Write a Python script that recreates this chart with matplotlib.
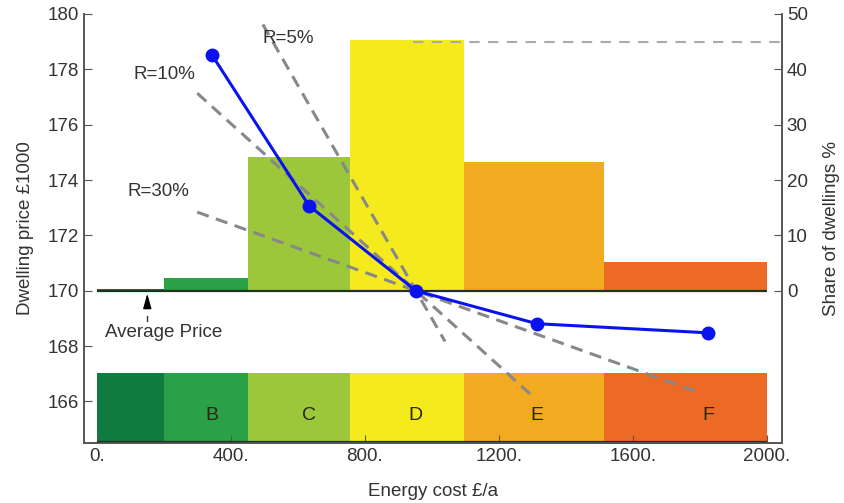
import matplotlib
matplotlib.use("Agg")
import matplotlib.pyplot as plt
import numpy as np

plt.rcParams['font.family'] = ['Liberation Sans', 'DejaVu Sans']

# ---- data ----
bin_edges = [0, 200, 450, 755, 1095, 1515, 2000]
bands = ['A', 'B', 'C', 'D', 'E', 'F']
band_colors = ['#0f7b3f', '#2aa146', '#9cc73b', '#f5ea1e', '#f2ab20', '#ec6a25']
share = [0.3, 2.3, 24.2, 45.3, 23.3, 5.2]          # % of dwellings
point_cost = [343, 633, 952, 1313, 1824]            # £/a
point_price = [178.52, 173.07, 170.0, 168.81, 168.48]  # £1000
letters = ['B', 'C', 'D', 'E', 'F']
avg_price = 170.0
avg_cost = 952
r_labels = ['R=5%', 'R=10%', 'R=30%']
r_slopes = [-0.02105, -0.01093, -0.00435]
r_range = [(495, 1039), (299, 1293), (299, 1800)]
r_label_pos = [(495, 179.1), (108, 177.8), (90, 173.6)]
max_share = 45
xticks = [0, 400, 800, 1200, 1600, 2000]
xticklabels = ['0.', '400.', '800.', '1200.', '1600.', '2000.']
yticks = [166, 168, 170, 172, 174, 176, 178, 180]
y2ticks = [0, 10, 20, 30, 40, 50]

FS = 13.5

fig = plt.figure(figsize=(8.45, 5.03), dpi=100)
ax = fig.add_axes([0.0994, 0.1193, 0.826, 0.853])
ax2 = ax.twinx()
ax.set_zorder(ax2.get_zorder() + 1)
ax.patch.set_visible(False)

xmin, xmax = -39, 2045
ymin, ymax = 164.5, 180
ax.set_xlim(xmin, xmax)
ax.set_ylim(ymin, ymax)
ax2.set_ylim((ymin - avg_price) * 5, (ymax - avg_price) * 5)

widths = np.diff(bin_edges)
# histogram on share axis
ax2.bar(bin_edges[:-1], share, width=widths, align='edge', color=band_colors,
        linewidth=0, zorder=1)
# bottom band
ax.bar(bin_edges[:-1], 167.04 - ymin, bottom=ymin, width=widths, align='edge',
       color=band_colors, linewidth=0, zorder=1)
for c, l in zip(point_cost, letters):
    ax.text(c, 165.5, l, ha='center', va='center', fontsize=14, color='#2a2612', zorder=3)

# average price line and bottom dark line
ax.hlines(avg_price, bin_edges[0], bin_edges[-1], color='#1e3320', lw=1.6, zorder=2)
ax.hlines(ymin + 0.03, bin_edges[0], bin_edges[-1], color='#1e3320', lw=1.6, zorder=2)

# max share dashed line
ax2.hlines(max_share, avg_cost - 10, xmax, color='#aaaaaa', lw=1.5,
           linestyles=(0, (5, 4)), zorder=2)

# R lines
for lab, s, (x0, x1), (lx, ly) in zip(r_labels, r_slopes, r_range, r_label_pos):
    xs = np.array([x0, x1])
    ys = avg_price + s * (xs - avg_cost)
    ax.plot(xs, ys, color='#888888', lw=2.2, ls=(0, (4, 2.5)), zorder=4)
    ax.text(lx, ly, lab, fontsize=FS, color='#333333', ha='left', va='center', zorder=6)

# price curve
ax.plot(point_cost, point_price, color='#0a12f0', lw=2.2, marker='o', ms=9, zorder=5)

# average price annotation
ax.annotate('', xy=(150, avg_price), xytext=(150, 169.35),
            arrowprops=dict(arrowstyle='-|>,head_length=0.9,head_width=0.25',
                            color='black', lw=1), zorder=6)
ax.plot([150, 150], [169.1, 168.9], color='#333333', lw=1, zorder=6)
ax.text(25, 168.5, 'Average Price', fontsize=FS, color='#333333', ha='left', va='center')

# axes styling
for a in (ax, ax2):
    a.spines['top'].set_visible(False)
    for sp in ('left', 'right', 'bottom'):
        a.spines[sp].set_color('#555555')
        a.spines[sp].set_linewidth(1.2)
ax.set_xticks(xticks)
ax.set_xticklabels(xticklabels)
ax.set_yticks(yticks)
ax.tick_params(direction='in', length=6, color='#555555', labelcolor='#333333', labelsize=FS)
ax2.set_yticks(y2ticks)
ax2.tick_params(direction='in', length=6, color='#555555', labelcolor='#333333', labelsize=FS)
ax.set_xlabel('Energy cost £/a', fontsize=FS, color='#333333', labelpad=13)
ax.set_ylabel('Dwelling price £1000', fontsize=FS, color='#333333', labelpad=10)
ax2.set_ylabel('Share of dwellings %', fontsize=FS, color='#333333', labelpad=11)

fig.savefig('out.png', dpi=100)
